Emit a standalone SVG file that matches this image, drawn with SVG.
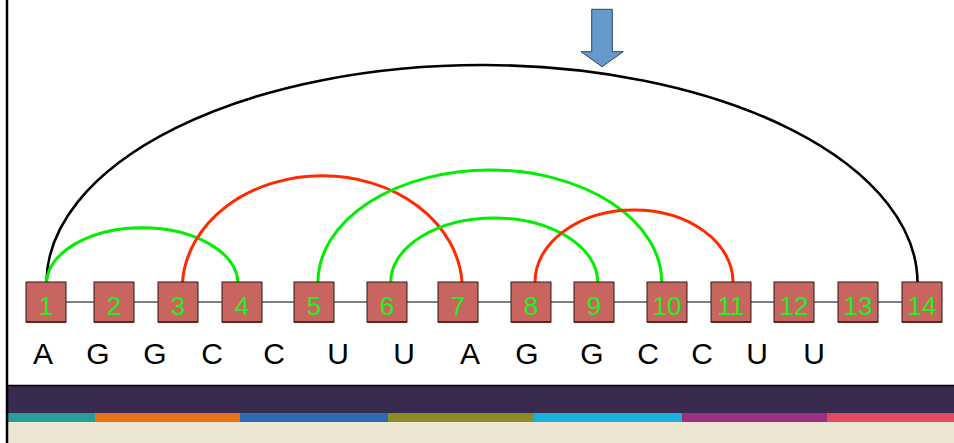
<svg xmlns="http://www.w3.org/2000/svg" width="954" height="443" viewBox="0 0 954 443">
<style>
.box{fill:#c9655f;stroke:#2a1a1a;stroke-width:1}
.sh{stroke:#5a2626;stroke-width:2}
.num{font-family:"Liberation Sans",Arial,sans-serif;font-size:26px;fill:#1ff01f;text-anchor:middle}
.let{font-family:"Liberation Sans",Arial,sans-serif;font-size:30px;fill:#000;text-anchor:middle}
.arc{fill:none;stroke-width:3}
.g{stroke:#00ee00}
.r{stroke:#ff2a00}
.k{stroke:#000;stroke-width:2.6}
</style>
<rect width="954" height="443" fill="#fff"/>
<!-- bottom band -->
<g id="band">
<rect x="8" y="385" width="946" height="28" fill="#392a4f"/>
<line x1="8" y1="385.5" x2="954" y2="385.5" stroke="#000" stroke-width="1.5"/>
<rect x="8" y="413" width="87" height="9" fill="#2a9d9a"/>
<rect x="95" y="413" width="145" height="9" fill="#e8731a"/>
<rect x="240" y="413" width="148" height="9" fill="#2a6cb2"/>
<rect x="388" y="413" width="146" height="9" fill="#8c8c2a"/>
<rect x="534" y="413" width="148" height="9" fill="#1ab2da"/>
<rect x="682" y="413" width="145" height="9" fill="#9a3082"/>
<rect x="827" y="413" width="127" height="9" fill="#e24a5e"/>
<rect x="8" y="422" width="946" height="21" fill="#ede6d2"/>
</g>
<line x1="7" y1="0" x2="7" y2="443" stroke="#000" stroke-width="2.5"/>
<!-- arrow -->
<g id="arrow">
<path d="M591.7 9.3 H612.3 V51.7 H623.3 L602 66.7 L581 51.7 H591.7 Z" fill="#6699cc" stroke="#2f4660" stroke-width="1"/>
</g>
<g id="connectors">
<line x1="46" y1="302" x2="922" y2="302" stroke="#808080" stroke-width="2"/>
<path class="arc k" d="M46.5 282 A435.5 218 0 0 1 917.5 284"/>
<path class="arc g" d="M46.5 282 A95.8 56 0 0 1 238 282"/>
<path class="arc r" d="M182.5 282 A140 113 0 0 1 462 282"/>
<path class="arc g" d="M318 282 A171.8 112 0 0 1 661.7 282"/>
<path class="arc g" d="M390.7 282 A103.5 64 0 0 1 597.7 282"/>
<path class="arc r" d="M535 282 A99 72 0 0 1 733 282"/>
</g>
<g id="n1"><rect class="box" x="26" y="282" width="40" height="40"/><line class="sh" x1="26" y1="322" x2="66" y2="322"/><text class="num" x="46" y="315">1</text></g>
<g id="n2"><rect class="box" x="94" y="282" width="40" height="40"/><line class="sh" x1="94" y1="322" x2="134" y2="322"/><text class="num" x="114" y="315">2</text></g>
<g id="n3"><rect class="box" x="158" y="282" width="40" height="40"/><line class="sh" x1="158" y1="322" x2="198" y2="322"/><text class="num" x="178" y="315">3</text></g>
<g id="n4"><rect class="box" x="222" y="282" width="40" height="40"/><line class="sh" x1="222" y1="322" x2="262" y2="322"/><text class="num" x="242" y="315">4</text></g>
<g id="n5"><rect class="box" x="294" y="282" width="40" height="40"/><line class="sh" x1="294" y1="322" x2="334" y2="322"/><text class="num" x="314" y="315">5</text></g>
<g id="n6"><rect class="box" x="367" y="282" width="40" height="40"/><line class="sh" x1="367" y1="322" x2="407" y2="322"/><text class="num" x="387" y="315">6</text></g>
<g id="n7"><rect class="box" x="438" y="282" width="40" height="40"/><line class="sh" x1="438" y1="322" x2="478" y2="322"/><text class="num" x="458" y="315">7</text></g>
<g id="n8"><rect class="box" x="511" y="282" width="40" height="40"/><line class="sh" x1="511" y1="322" x2="551" y2="322"/><text class="num" x="531" y="315">8</text></g>
<g id="n9"><rect class="box" x="574" y="282" width="40" height="40"/><line class="sh" x1="574" y1="322" x2="614" y2="322"/><text class="num" x="594" y="315">9</text></g>
<g id="n10"><rect class="box" x="647" y="282" width="40" height="40"/><line class="sh" x1="647" y1="322" x2="687" y2="322"/><text class="num" x="667" y="315">10</text></g>
<g id="n11"><rect class="box" x="711" y="282" width="40" height="40"/><line class="sh" x1="711" y1="322" x2="751" y2="322"/><text class="num" x="731" y="315">11</text></g>
<g id="n12"><rect class="box" x="774" y="282" width="40" height="40"/><line class="sh" x1="774" y1="322" x2="814" y2="322"/><text class="num" x="794" y="315">12</text></g>
<g id="n13"><rect class="box" x="838" y="282" width="40" height="40"/><line class="sh" x1="838" y1="322" x2="878" y2="322"/><text class="num" x="858" y="315">13</text></g>
<g id="n14"><rect class="box" x="902" y="282" width="40" height="40"/><line class="sh" x1="902" y1="322" x2="942" y2="322"/><text class="num" x="922" y="315">14</text></g>
<g id="sequence">
<text class="let" x="43" y="364">A</text>
<text class="let" x="98" y="364">G</text>
<text class="let" x="155" y="364">G</text>
<text class="let" x="212" y="364">C</text>
<text class="let" x="274" y="364">C</text>
<text class="let" x="338" y="364">U</text>
<text class="let" x="404" y="364">U</text>
<text class="let" x="470" y="364">A</text>
<text class="let" x="527" y="364">G</text>
<text class="let" x="592" y="364">G</text>
<text class="let" x="648" y="364">C</text>
<text class="let" x="702" y="364">C</text>
<text class="let" x="757" y="364">U</text>
<text class="let" x="814" y="364">U</text>
</g>
</svg>
